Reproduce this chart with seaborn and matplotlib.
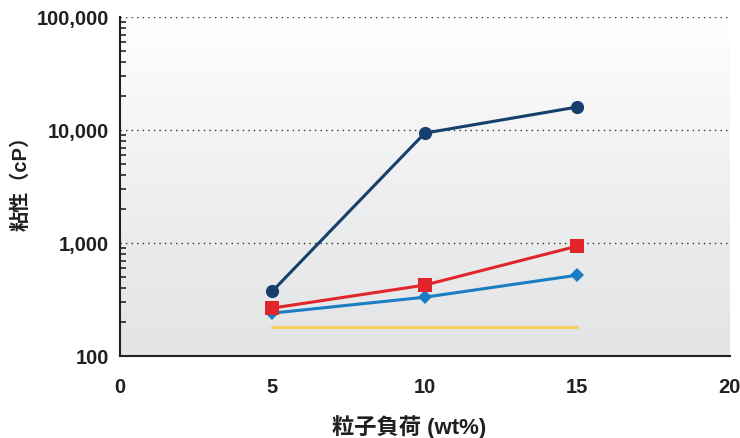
import numpy as np
import pandas as pd
import matplotlib
matplotlib.use("Agg")
import matplotlib.pyplot as plt
import seaborn as sns
from matplotlib.ticker import FuncFormatter, LogLocator, FixedLocator

# data
loading = [5, 10, 15]
visc_navy = [375, 9400, 16000]
visc_red = [266, 425, 940]
visc_blue = [240, 332, 520]
visc_yellow = [181, 181, 181]

x_ticks = [0, 5, 10, 15, 20]
y_ticks = [100, 1000, 10000, 100000]

sns.set_style("white")
plt.rcParams['font.family'] = ['Liberation Sans', 'Noto Sans CJK JP', 'DejaVu Sans']
plt.rcParams['font.weight'] = 'bold'

df = pd.DataFrame({
    'loading': loading * 4,
    'visc': visc_navy + visc_red + visc_blue + visc_yellow,
    'series': ['navy'] * 3 + ['red'] * 3 + ['blue'] * 3 + ['yellow'] * 3,
})

fig = plt.figure(figsize=(7.4, 4.38), dpi=100)
ax = fig.add_axes([0.162, 0.187, 0.824, 0.774])

# soft vertical gradient behind the plot
grad = np.linspace(1, 0, 256).reshape(-1, 1) ** 1.3
ax.imshow(grad, extent=[0, 1, 0, 1], transform=ax.transAxes, aspect='auto',
          cmap=matplotlib.colors.LinearSegmentedColormap.from_list('bg', ['#e4e5e6', '#ffffff']),
          zorder=0)

palette = {'navy': '#173f6e', 'red': '#e0262b', 'blue': '#1b7dc4', 'yellow': '#f6cf5c'}
markers = {'navy': 'o', 'red': 's', 'blue': 'D', 'yellow': ''}
sizes = {'navy': 9.5, 'red': 9.5, 'blue': 7, 'yellow': 0}

for name in ['yellow', 'blue', 'red', 'navy']:
    sub = df[df['series'] == name]
    sns.lineplot(data=sub, x='loading', y='visc', ax=ax, color=palette[name],
                 marker=markers[name] if markers[name] else None,
                 markersize=sizes[name], markeredgewidth=0, linewidth=2.2,
                 legend=False, zorder=3)

ax.set_yscale('log')
ax.set_xlim(0, 20)
ax.set_ylim(100, 100000)
ax.xaxis.set_major_locator(FixedLocator(x_ticks))
ax.yaxis.set_major_locator(FixedLocator(y_ticks))
ax.yaxis.set_minor_locator(LogLocator(base=10, subs=np.arange(2, 10)))
ax.yaxis.set_major_formatter(FuncFormatter(lambda v, p: f"{int(v):,}"))
ax.yaxis.set_minor_formatter(FuncFormatter(lambda v, p: ""))

for v in y_ticks[1:]:
    ax.axhline(v, color='#333333', linestyle=(0, (1, 3)), linewidth=1, zorder=1)

for s in ['top', 'right']:
    ax.spines[s].set_visible(False)
for s in ['left', 'bottom']:
    ax.spines[s].set_color('#231f20')
    ax.spines[s].set_linewidth(1.5)

ax.tick_params(axis='x', direction='out', length=6, width=1.2, labelsize=14.5, pad=10, colors='#231f20')
ax.tick_params(axis='y', which='major', direction='in', length=6, width=1.2, labelsize=14.5, pad=8, colors='#231f20')
ax.tick_params(axis='y', which='minor', direction='in', length=4, width=1.2, left=True)

ax.set_xlabel('粒子負荷 (wt%)', fontsize=16, fontweight='bold', color='#231f20')
ax.set_ylabel('粘性（cP）', fontsize=14.5, fontweight='bold', color='#231f20')
ax.xaxis.set_label_coords(0.475, -0.175)
ax.yaxis.set_label_coords(-0.146, 0.525)

plt.savefig("out.png", dpi=100)
